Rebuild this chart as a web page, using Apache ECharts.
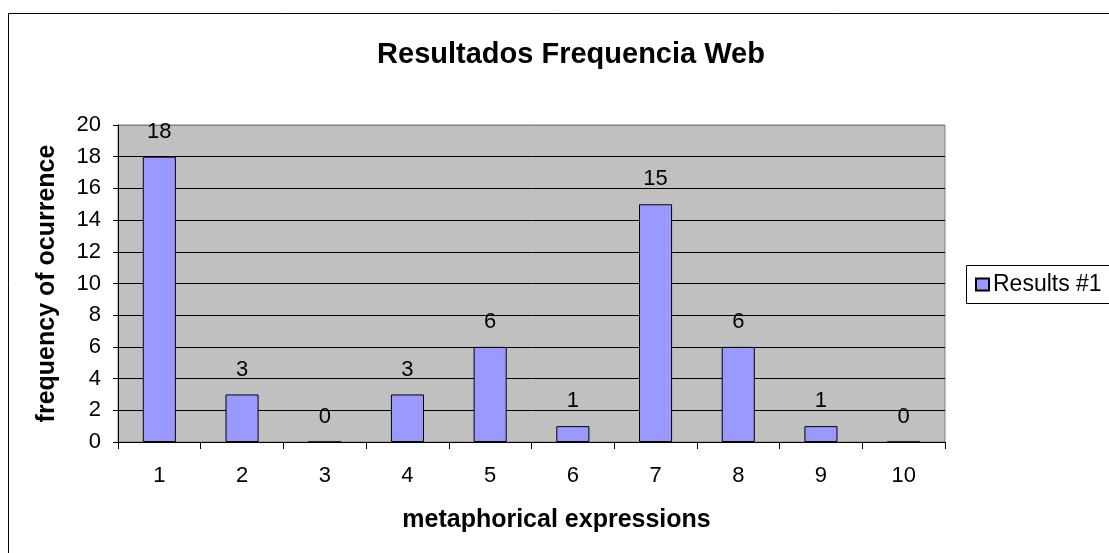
<!DOCTYPE html>
<html><head><meta charset="utf-8">
<script src="https://cdn.jsdelivr.net/npm/echarts@6/dist/echarts.min.js"></script>
<style>html,body{margin:0;padding:0;background:#fff}#c{width:1109px;height:553px}</style>
</head><body><div id="c"></div>
<script>
const categories = ['1','2','3','4','5','6','7','8','9','10'];
const results1 = [18, 3, 0, 3, 6, 1, 15, 6, 1, 0];
const seriesName = 'Results #1';
const titleText = 'Resultados Frequencia Web';
const xName = 'metaphorical expressions';
const yName = 'frequency of ocurrence';

const chart = echarts.init(document.getElementById('c'));
const F = 'Arial, "Liberation Sans", sans-serif';
const gridColors = ['#000','#000','#000','#000','#000','#000','#000','#000','#000','#000','#808080'];
chart.setOption({
  animation: false,
  backgroundColor: '#fff',
  title: { text: titleText, left: 566, textAlign: 'center', top: 35,
    textStyle: { fontFamily: F, fontWeight: 'bold', fontSize: 29, color: '#000' } },
  legend: { data: [seriesName], left: 966, top: 265, orient: 'vertical', icon: 'rect',
    padding: [8, 0, 7, 9],
    itemWidth: 13, itemHeight: 12, itemGap: 0,
    textStyle: { fontFamily: F, fontSize: 23, color: '#000', padding: [0,0,0,-1] } },
  graphic: [
    { type: 'rect', shape: { x: 8.5, y: 13.5, width: 1120, height: 560 },
      style: { fill: 'none', stroke: '#000', lineWidth: 1 }, silent: true, z: -1 },
    { type: 'rect', shape: { x: 966.5, y: 265.5, width: 200, height: 38 },
      style: { fill: 'none', stroke: '#000', lineWidth: 1 }, silent: true, z: -1 }
  ],
  grid: { left: 118, right: 164, top: 125, bottom: 111, show: true,
    backgroundColor: '#C0C0C0', borderColor: '#808080', borderWidth: 1 },
  xAxis: { type: 'category', data: categories,
    name: xName, nameLocation: 'middle', nameGap: 66,
    nameTextStyle: { fontFamily: F, fontWeight: 'bold', fontSize: 25, color: '#000', padding: [0,0,0,50] },
    axisLine: { lineStyle: { color: '#000', width: 1 } },
    axisTick: { show: true, alignWithLabel: false, length: 7, lineStyle: { color: '#000' } },
    axisLabel: { fontFamily: F, fontSize: 22, color: '#000', margin: 23 } },
  yAxis: { type: 'value', min: 0, max: 20, interval: 2,
    name: yName, nameLocation: 'middle', nameGap: 58, nameRotate: 90,
    nameTextStyle: { fontFamily: F, fontWeight: 'bold', fontSize: 25, color: '#000' },
    axisLine: { show: true, lineStyle: { color: '#000', width: 1 } },
    axisTick: { show: true, length: 5, lineStyle: { color: '#000' } },
    splitLine: { show: true, lineStyle: { color: gridColors, width: 1 } },
    axisLabel: { fontFamily: F, fontSize: 22, color: '#000', margin: 17 } },
  series: [{ name: seriesName, type: 'bar', data: results1, barWidth: '40%',
    itemStyle: { color: '#9999FF', borderColor: '#000', borderWidth: 1 },
    label: { show: true, position: 'top', distance: 14,
      fontFamily: F, fontSize: 22, color: '#000' } }]
});
</script></body></html>
